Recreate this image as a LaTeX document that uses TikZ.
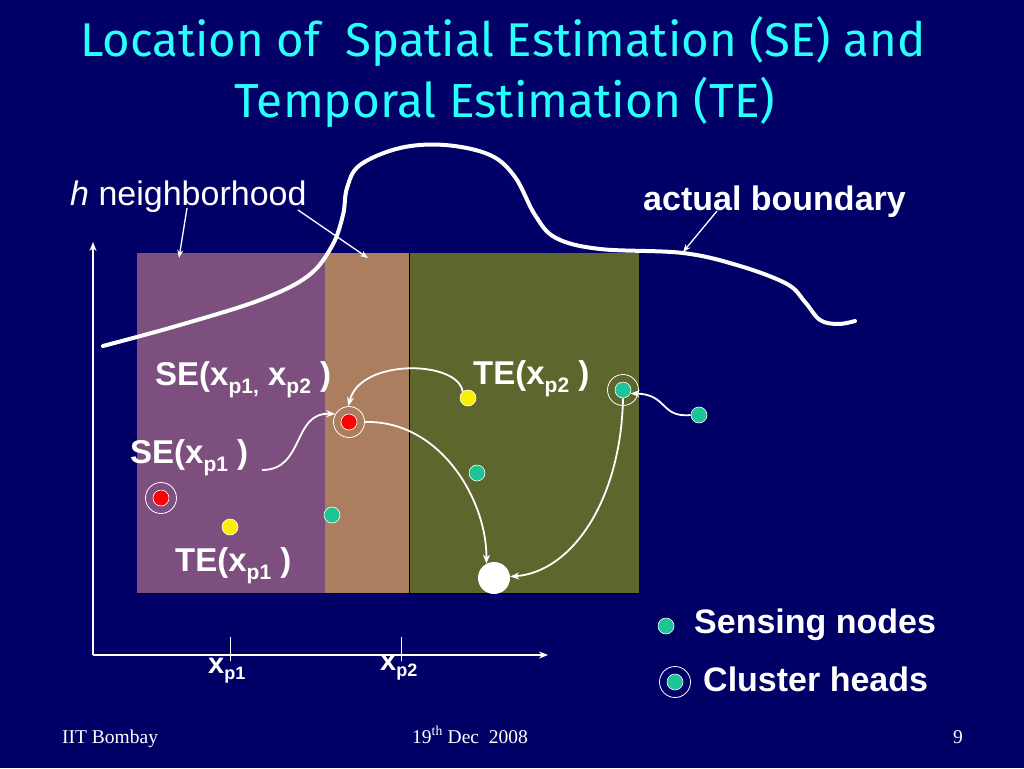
\documentclass[tikz,border=0pt]{standalone}
\usepackage{fontspec}
\setmainfont{Liberation Serif}
\newfontfamily\arialf{Liberation Sans}
\newfontfamily\titlef{Fira Sans}
\usetikzlibrary{arrows.meta}
\definecolor{bgnavy}{RGB}{0,0,102}
\definecolor{titlecyan}{RGB}{40,255,255}
\definecolor{regpurple}{RGB}{125,79,127}
\definecolor{regbrown}{RGB}{172,126,96}
\definecolor{reggreen}{RGB}{93,102,44}
\definecolor{teal}{RGB}{30,195,150}
\definecolor{yel}{RGB}{250,240,0}
\newcommand\sbsc[1]{\raisebox{-8pt}{\fontsize{21}{21}\selectfont #1}}
\newcommand\sbax[1]{\raisebox{-6pt}{\fontsize{18}{18}\selectfont #1}}
\tikzset{
  dot/.style={circle, inner sep=0pt, minimum size=16pt, draw=white, line width=0.6pt},
  ringc/.style={circle, inner sep=0pt, minimum size=31pt, draw=white, line width=0.8pt},
  conn/.style={draw=white, line width=1.8pt, -{Stealth[length=9pt,width=7pt]}},
  thinarr/.style={draw=white, line width=1.3pt, -{Stealth[length=8pt,width=6pt]}},
  lbl/.style={text=white, font=\arialf\bfseries\fontsize{34}{40}\selectfont, anchor=base west, inner sep=0pt},
  elbl/.style={text=white, font=\arialf\bfseries\fontsize{33}{38}\selectfont, anchor=base west, inner sep=0pt},
  axlbl/.style={text=white, font=\arialf\bfseries\fontsize{29}{34}\selectfont, anchor=base west, inner sep=0pt},
  foot/.style={text=white, font=\fontsize{19.5}{22}\selectfont, anchor=base west, inner sep=0pt},
  axis/.style={draw=white, line width=1.6pt},
}
\begin{document}
\begin{tikzpicture}[x=1pt,y=-1pt]
\fill[bgnavy] (0,0) rectangle (1024,768);
\useasboundingbox (0,0) rectangle (1024,768);

% title
\node[text=titlecyan, font=\titlef, inner sep=0pt] (t1) at (503,42) {\resizebox{845pt}{!}{Location of\ \ Spatial Estimation (SE) and}};
\node[text=titlecyan, font=\titlef, inner sep=0pt] (t2) at (505,102) {\resizebox{540pt}{!}{Temporal Estimation (TE)}};

% regions
\fill[regpurple] (137,253) rectangle (325,593);
\fill[regbrown] (325,253) rectangle (409,593);
\fill[reggreen] (409,253) rectangle (639,593);
\draw[black, line width=0.8pt] (409,253) -- (409,593);
\draw[black, line width=0.8pt] (137,593) -- (639,593);

% axes
\coordinate (org) at (93,655);
\coordinate (ytip) at (93,242);
\coordinate (xtip) at (548,655);
\draw[axis, -{Stealth[length=9pt,width=7pt]}] (org) -- (ytip);
\draw[axis, -{Stealth[length=9pt,width=7pt]}] (org) -- (xtip);
\coordinate (tk1a) at (230,637); \coordinate (tk1b) at (230,661);
\coordinate (tk2a) at (401,637); \coordinate (tk2b) at (401,661);
\draw[white, line width=0.8pt] (tk1a) -- (tk1b);
\draw[white, line width=0.8pt] (tk2a) -- (tk2b);
\node[axlbl] (xp1) at (208,673) {x\sbax{p1}};
\node[axlbl] (xp2) at (380,670) {x\sbax{p2}};

% actual boundary
\draw[white, line width=4pt, line cap=round] plot[smooth, tension=0.6] coordinates {
 (103,346) (180,325) (260,300) (308,276) (332,246) (343,215) (347,188) (360,165)
 (400,148) (445,145) (490,155) (515,177) (535,215) (556,238) (600,249) (683,253)
 (740,266) (787,284) (805,302) (820,320) (838,324) (855,321)};

% labels
\node[text=white, font=\arialf\fontsize{34}{40}\selectfont, anchor=base west, inner sep=0pt] (hlab) at (70,205) {\textit{h} neighborhood};
\node[lbl] (ablab) at (643,210) {actual boundary};
\coordinate (h1s) at (187,208); \coordinate (h1e) at (179,258);
\coordinate (h2s) at (298,210); \coordinate (h2e) at (368,258);
\coordinate (abs) at (717,211); \coordinate (abe) at (683,252);
\draw[thinarr] (h1s) -- (h1e);
\draw[thinarr] (h2s) -- (h2e);
\draw[thinarr] (abs) -- (abe);

\node[elbl] (se12) at (155,385) {SE(x\sbsc{p1,} x\sbsc{p2} )};
\node[elbl] (te2) at (473,384) {TE(x\sbsc{p2} )};
\node[elbl] (se1) at (130,463) {SE(x\sbsc{p1} )};
\node[elbl] (te1) at (175,571) {TE(x\sbsc{p1} )};

% nodes
\node[ringc] (ch1r) at (161,498) {};
\node[dot, fill=red] (ch1) at (161,498) {};
\node[ringc] (ch2r) at (349,422) {};
\node[dot, fill=red] (ch2) at (349,422) {};
\node[ringc] (ch3r) at (623,390) {};
\node[dot, fill=teal] (ch3) at (623,390) {};
\node[dot, fill=yel] (y1) at (230,527) {};
\node[dot, fill=yel] (y2) at (468,398) {};
\node[dot, fill=teal] (s1) at (332,515) {};
\node[dot, fill=teal] (s2) at (477,473) {};
\node[dot, fill=teal] (s3) at (699,415) {};
\node[circle, fill=white, minimum size=32pt, inner sep=0pt] (sink) at (494,578) {};

% connectors
\coordinate (a1) at (262,470);
\draw[conn] (a1) .. controls (305,470) and (292,412) .. (ch2r.150);
\draw[conn] (y2.130) .. controls (458,360) and (360,358) .. (ch2r.92);
\draw[conn] (ch2r.east) .. controls (440,420) and (487,500) .. (sink.118);
\draw[conn] (ch3.south) .. controls (621,500) and (572,572) .. (sink.5);
\draw[conn] (s3.west) .. controls (660,418) and (668,394) .. (ch3.-25);

% legend
\node[dot, fill=teal] (ls) at (666,626) {};
\node[lbl] (lst) at (694,633) {Sensing nodes};
\node[ringc] (lchr) at (675,682) {};
\node[dot, fill=teal] (lch) at (675,682) {};
\node[lbl] (lcht) at (703,691) {Cluster heads};

% footer
\node[foot] (f1) at (62,743) {IIT Bombay};
\node[foot] (f2) at (412,743) {19\textsuperscript{th} Dec\ \ 2008};
\node[foot] (f3) at (953,743) {9};
\end{tikzpicture}
\end{document}
